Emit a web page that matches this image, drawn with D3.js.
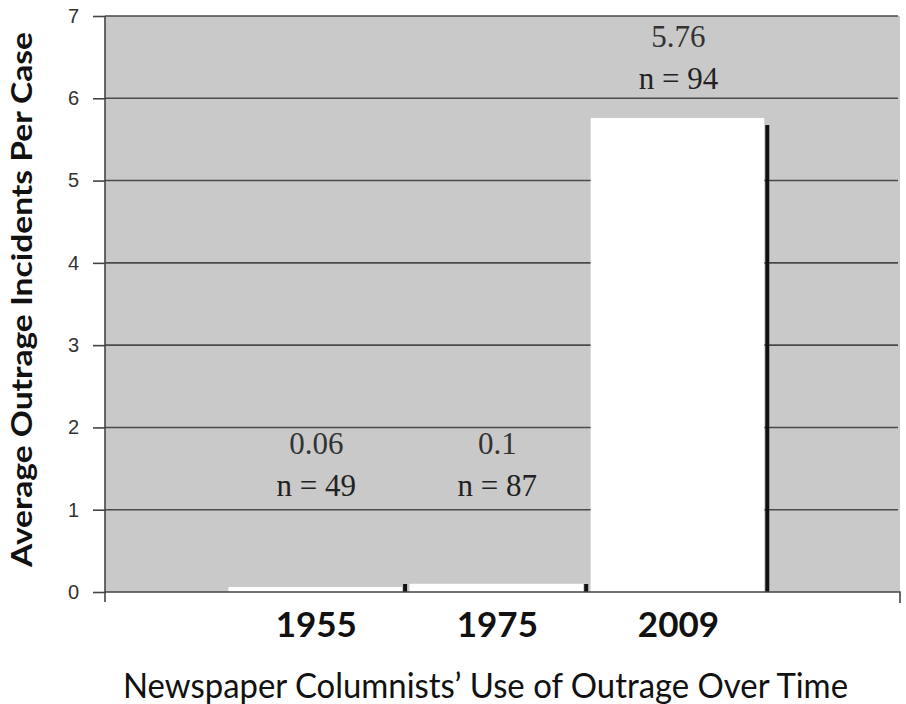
<!DOCTYPE html>
<html>
<head>
<meta charset="utf-8">
<script src="https://cdn.jsdelivr.net/npm/d3@7"></script>
<style>
  body { margin: 0; background: #fff; }
  svg { display: block; }
</style>
</head>
<body>
<svg id="chart" width="906" height="704"></svg>
<script>
// values
const years = ['1955', '1975', '2009']
const averages = [0.06, 0.1, 5.76]
const sampleSizes = [49, 87, 94]
const yTicks = [0, 1, 2, 3, 4, 5, 6, 7]

const plot = { left: 105, right: 900, top: 16, bottom: 592 }

const svg = d3.select('#chart')

const x = d3.scaleBand()
  .domain(years)
  .range([plot.left, plot.right])
  .paddingInner(0.03)
  .paddingOuter(0.71)
  .align(0.48)

const y = d3.scaleLinear()
  .domain([0, 7])
  .range([plot.bottom, plot.top])

// plot background
svg.append('rect')
  .attr('x', plot.left)
  .attr('y', plot.top)
  .attr('width', plot.right - plot.left)
  .attr('height', plot.bottom - plot.top)
  .attr('fill', '#c9c9c9')

// gridlines
svg.append('g')
  .selectAll('line')
  .data(yTicks.filter(d => d > 0))
  .enter()
  .append('line')
  .attr('x1', plot.left)
  .attr('x2', plot.right - 2)
  .attr('y1', d => y(d))
  .attr('y2', d => y(d))
  .attr('stroke', '#4a4a4a')
  .attr('stroke-width', 1.6)

// y axis
const yAxis = svg.append('g')
  .attr('transform', `translate(${plot.left},0)`)
  .call(d3.axisLeft(y).tickValues(yTicks).tickSize(12).tickPadding(14).tickFormat(d3.format('d')))
yAxis.select('.domain')
  .attr('d', `M0,${plot.top}V${plot.bottom + 10}`)
  .attr('stroke', '#444')
  .attr('stroke-width', 1.6)
yAxis.selectAll('.tick line').attr('stroke', '#444').attr('stroke-width', 1.6)
yAxis.selectAll('.tick text')
  .attr('fill', '#333')
  .style('font-family', '"Liberation Sans", Arial, sans-serif')
  .style('font-size', '20px')

// bars: a dark shadow edge on the right, white face
const bars = svg.append('g')
  .selectAll('g')
  .data(years)
  .enter()
  .append('g')

bars.append('rect')
  .attr('x', d => x(d) + x.bandwidth() - 1)
  .attr('y', (d, i) => Math.min(y(averages[i]) + 7, plot.bottom - 8))
  .attr('width', 4)
  .attr('height', (d, i) => plot.bottom - Math.min(y(averages[i]) + 7, plot.bottom - 8))
  .attr('fill', '#111')

bars.append('rect')
  .attr('x', d => x(d))
  .attr('y', (d, i) => y(averages[i]))
  .attr('width', x.bandwidth() - 2)
  .attr('height', (d, i) => plot.bottom - y(averages[i]))
  .attr('fill', '#fff')

// x axis
const xAxis = svg.append('g')
  .attr('transform', `translate(0,${plot.bottom})`)
  .call(d3.axisBottom(x).tickSize(0).tickPadding(20))
xAxis.select('.domain')
  .attr('d', `M${plot.left},0H${plot.right}V11`)
  .attr('stroke', '#444')
  .attr('stroke-width', 1.6)
  .attr('fill', 'none')
xAxis.selectAll('.tick text')
  .attr('fill', '#111')
  .style('font-family', 'Lato, "DejaVu Sans", sans-serif')
  .style('font-weight', '700')
  .style('font-size', '35px')

// value labels above the bars
const labelFont = '"Liberation Serif", "DejaVu Serif", serif'
const lineTwoY = (d, i) => Math.min(y(averages[i]) - 40, y(1.3))

bars.append('text')
  .attr('x', d => x(d) + x.bandwidth() / 2)
  .attr('y', (d, i) => lineTwoY(d, i) - 42 + 11)
  .attr('text-anchor', 'middle')
  .attr('fill', '#333')
  .style('font-family', labelFont)
  .style('font-size', '31px')
  .text((d, i) => averages[i])

bars.append('text')
  .attr('x', d => x(d) + x.bandwidth() / 2)
  .attr('y', (d, i) => lineTwoY(d, i) + 11)
  .attr('text-anchor', 'middle')
  .attr('fill', '#222')
  .style('font-family', labelFont)
  .style('font-size', '31px')
  .text((d, i) => 'n = ' + sampleSizes[i])

// axis titles
svg.append('text')
  .attr('transform', `translate(32,${(32 + 567) / 2}) rotate(-90)`)
  .attr('text-anchor', 'middle')
  .attr('fill', '#111')
  .attr('textLength', 535)
  .attr('lengthAdjust', 'spacingAndGlyphs')
  .style('font-family', 'Lato, "DejaVu Sans", sans-serif')
  .style('font-weight', '700')
  .style('font-size', '29px')
  .text('Average Outrage Incidents Per Case')

svg.append('text')
  .attr('x', (123 + 848) / 2)
  .attr('y', 698)
  .attr('text-anchor', 'middle')
  .attr('fill', '#111')
  .attr('textLength', 725)
  .attr('lengthAdjust', 'spacingAndGlyphs')
  .style('font-family', 'Lato, "DejaVu Sans", sans-serif')
  .style('font-size', '34px')
  .text('Newspaper Columnists\u2019 Use of Outrage Over Time')
</script>
</body>
</html>
